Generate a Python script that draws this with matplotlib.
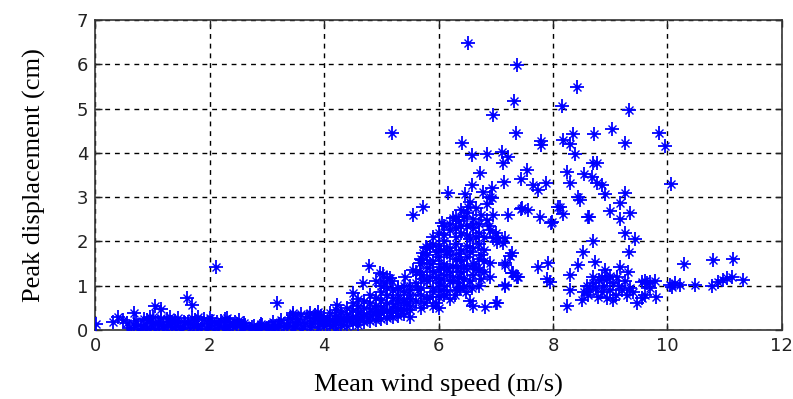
import matplotlib
matplotlib.use("Agg")
import matplotlib.pyplot as plt
import numpy as np

# ---- data: low-speed band (0-4 m/s) ----
wind_low = [0.6,0.75,0.9,1.05,1.2,1.35,1.5,1.65,1.8,1.95,2.1,2.25,2.4,2.55,2.7,2.85,3.0,3.15,3.3,3.45,3.6,3.75,3.9,
            0.68,0.83,0.97,1.12,1.27,1.42,1.57,1.72,1.87,2.02,2.17,2.32,2.47,2.62,2.77,2.92,3.07,3.22,3.37,3.52,3.67,3.82,3.97,
            0.72,0.9,1.1,1.25,1.4,1.55,1.75,1.9,2.05,2.2,2.35,2.6,2.9,3.1,3.25,3.4,3.55,3.7,3.85,3.95,
            0.8,1.0,1.18,1.33,1.48,1.63,1.78,1.98,2.13,2.28,2.44,2.58,2.74,2.88,3.03,3.2,3.35,3.5,3.64,3.78,3.92,
            0.95,1.15,1.45,1.7,2.0,2.27,2.52,3.45,3.6,3.75,3.9,
            0.02,0.32,0.4,0.49,0.68,1.05,1.15,1.01,1.61,1.69,2.11,3.18,3.46,3.84,4.23,1.3,1.8,2.3,0.55,0.85]
disp_low = [0.04,0.03,0.05,0.02,0.04,0.06,0.03,0.05,0.04,0.02,0.05,0.03,0.06,0.04,0.02,0.05,0.03,0.04,0.06,0.05,0.03,0.07,0.05,
            0.12,0.10,0.14,0.11,0.13,0.10,0.15,0.12,0.14,0.16,0.12,0.10,0.13,0.11,0.09,0.12,0.10,0.14,0.16,0.18,0.15,0.20,0.22,
            0.20,0.22,0.18,0.24,0.20,0.19,0.22,0.25,0.21,0.20,0.18,0.15,0.14,0.17,0.22,0.26,0.25,0.30,0.28,0.32,
            0.08,0.16,0.09,0.17,0.07,0.18,0.09,0.10,0.18,0.07,0.17,0.08,0.06,0.08,0.07,0.09,0.10,0.12,0.10,0.13,0.15,
            0.30,0.28,0.27,0.26,0.27,0.25,0.22,0.34,0.36,0.38,0.40,
            0.13,0.18,0.29,0.23,0.38,0.54,0.47,0.29,0.72,0.56,1.42,0.61,0.38,0.34,0.56,0.30,0.30,0.28,0.15,0.25]

# ---- rising band (4-5.9 m/s) ----
wind_rise = [4.0,4.0,4.0, 4.1,4.1,4.1, 4.2,4.2,4.2,4.2, 4.3,4.3,4.3, 4.4,4.4,4.4,4.4, 4.5,4.5,4.5,4.5,
             4.6,4.6,4.6,4.6,4.6, 4.7,4.7,4.7,4.7, 4.8,4.8,4.8,4.8,4.8, 4.9,4.9,4.9,4.9,
             5.0,5.0,5.0,5.0,5.0,5.0, 5.1,5.1,5.1,5.1,5.1, 5.2,5.2,5.2,5.2,5.2, 5.3,5.3,5.3,5.3,5.3,
             5.4,5.4,5.4,5.4,5.4, 5.5,5.5,5.5,5.5,
             4.05,4.15,4.25,4.35,4.45,4.55,4.65,4.75,4.85,4.95,5.05,5.15,5.25,5.35,5.45,
             4.51,4.68,4.79,4.98,5.03,5.1,5.15,5.19,5.29,5.41,5.56,5.68,5.68,5.71,5.73,5.78,5.85,4.9,5.05,5.19]
disp_rise = [0.08,0.20,0.30, 0.10,0.25,0.38, 0.05,0.18,0.32,0.45, 0.12,0.28,0.40, 0.10,0.22,0.35,0.50, 0.15,0.30,0.45,0.60,
             0.12,0.25,0.40,0.55,0.70, 0.18,0.35,0.50,0.65, 0.20,0.32,0.48,0.62,0.80, 0.22,0.40,0.55,0.72,
             0.25,0.38,0.52,0.68,0.85,1.00, 0.28,0.45,0.60,0.78,0.95, 0.30,0.42,0.58,0.72,0.90, 0.32,0.50,0.65,0.80,0.95,
             0.35,0.48,0.62,0.85,1.00, 0.30,0.55,0.70,0.90,
             0.14,0.17,0.24,0.20,0.28,0.22,0.32,0.28,0.38,0.33,0.45,0.38,0.50,0.42,0.62,
             0.84,1.06,1.44,1.29,1.26,1.17,1.17,1.10,0.95,1.20,1.35,1.31,1.51,1.58,1.74,1.87,1.87,1.10,1.05,4.45]

# ---- dense cloud (5.4-7.4 m/s) ----
wind_cloud = [6.17,6.46,6.78,6.9,6.59,6.93,
              5.73,6.52,6.55,6.4,6.65,6.85,
              5.56,6.06,6.25,6.35,6.45,6.6,6.7,6.85,6.95,6.5,6.3,
              6.0,6.1,6.2,6.3,6.4,6.5,6.6,6.7,6.8,6.9,7.0,5.9,6.55,6.65,
              5.8,5.9,6.0,6.1,6.2,6.3,6.4,6.5,6.6,6.7,6.8,6.95,7.04,7.16,6.15,
              5.7,5.8,5.9,6.0,6.1,6.2,6.3,6.4,6.5,6.6,6.7,6.8,6.9,7.16,7.25,6.05,
              5.6,5.7,5.8,5.9,6.0,6.1,6.2,6.25,6.32,6.4,6.5,6.6,6.7,6.8,6.9,7.28,7.37,
              5.5,5.6,5.7,5.8,5.9,6.0,6.1,6.2,6.34,6.45,6.55,6.7,6.32,7.16,
              5.4,5.5,5.6,5.7,5.8,5.9,6.0,6.1,6.2,6.55,6.6,6.81,7.0,7.02,
              5.5,5.7,5.9,6.0,
              5.85,5.95,6.05,6.15,6.25,6.35,6.45,6.55,6.65,6.75,
              5.75,5.85,5.95,6.05,6.15,6.25,6.35,6.45,6.62,6.75,
              5.65,5.75,5.85,5.95,6.05,6.15,6.28,6.38,6.48,6.58,
              6.1,6.2,6.3,6.4,6.5,6.6,6.75,6.88]
disp_cloud = [3.09,3.07,3.11,3.00,3.27,3.20,
              2.78,2.78,2.89,2.70,2.75,2.85,
              2.60,2.42,2.53,2.45,2.55,2.50,2.40,2.48,2.60,2.35,2.30,
              2.20,2.15,2.25,2.10,2.20,2.15,2.30,2.20,2.10,2.25,2.20,2.10,2.05,2.10,
              1.85,1.95,1.90,2.00,1.85,1.95,1.80,1.90,1.85,1.95,1.80,2.08,2.08,2.08,1.75,
              1.60,1.70,1.55,1.65,1.50,1.70,1.60,1.55,1.65,1.50,1.60,1.55,1.51,1.47,1.67,1.80,
              1.30,1.25,1.40,1.30,1.35,1.25,1.31,1.20,1.40,1.30,1.38,1.25,1.35,1.30,1.20,1.29,1.20,
              1.00,1.05,0.95,1.10,0.95,1.05,1.00,1.10,1.06,1.00,1.10,1.00,0.90,0.99,
              0.70,0.80,0.65,0.80,0.70,0.85,0.75,0.80,0.70,0.66,0.55,0.52,0.61,0.60,
              0.45,0.50,0.55,0.50,
              1.48,1.75,1.42,1.78,1.45,1.72,1.45,1.75,1.40,1.70,
              1.15,1.20,1.18,1.15,1.40,1.10,1.20,1.15,1.45,1.15,
              0.90,0.60,0.75,0.62,0.90,0.88,0.80,0.95,0.85,0.95,
              2.35,2.40,2.55,2.35,2.65,2.40,2.60,2.35]

# ---- scattered 6.4-8.1 m/s ----
wind_mid = [6.52,7.37,7.32,6.95,7.35,7.79,7.79,6.41,6.59,6.85,7.11,7.21,7.13,6.72,7.55,7.14,7.44,7.65,7.88,7.74,
            6.93,7.21,7.44,7.56,7.77,7.97,8.09,7.28,7.13,7.02,7.74,7.91,7.9,7.95,7.16,7.3,7.39,7.16,7.46,7.98]
disp_mid = [6.48,5.98,5.17,4.85,4.45,4.27,4.18,4.22,3.95,3.97,4.02,3.90,3.77,3.54,3.61,3.34,3.40,3.27,3.32,3.16,
            2.98,2.60,2.73,2.71,2.55,2.42,2.78,1.74,1.97,1.99,1.42,1.51,1.15,1.08,1.02,1.29,1.20,1.51,2.75,2.44]

# ---- scattered 8-10.1 m/s ----
wind_high = [8.42,8.16,9.33,8.18,8.35,8.3,8.38,8.72,9.03,9.26,9.85,9.96,8.7,8.77,8.24,8.3,8.54,8.68,8.77,8.86,
             8.91,9.26,10.06,8.44,8.47,8.61,8.63,9.0,9.17,9.35,9.17,8.12,8.18,9.26,9.43,8.7,8.52,9.33,8.73,8.44,
             8.3,9.17,9.31,8.91,
             8.3,8.24,8.5,9.05,9.47,9.8,8.55,8.6,8.65,8.7,8.75,8.8,8.85,8.9,8.95,9.0,9.05,9.1,9.15,9.2,
             9.25,9.3,9.35,9.4,9.55,9.6,9.65,9.7,9.78,8.62,8.78,8.95,9.12,8.85,9.0,8.7,9.7,9.6,9.55]
disp_high = [5.49,5.06,4.97,4.29,4.42,4.20,3.97,4.42,4.53,4.22,4.45,4.15,3.77,3.77,3.57,3.32,3.52,3.45,3.32,3.27,
             3.07,3.09,3.30,3.00,2.93,2.55,2.55,2.69,2.50,2.64,2.87,2.78,2.62,2.19,2.05,2.00,1.76,1.76,1.53,1.47,
             1.24,1.42,1.31,1.35,
             0.90,0.54,0.68,0.68,0.61,0.74,0.85,1.00,0.90,1.05,0.95,1.12,0.85,1.00,1.15,0.90,1.05,0.80,1.00,0.90,
             1.10,0.80,0.95,0.85,1.08,1.10,1.05,1.08,1.10,0.78,0.75,0.72,1.20,1.20,1.22,1.20,0.95,0.80,0.72]

# ---- tail above 10 m/s ----
wind_tail = [10.04,10.13,10.22,10.29,10.48,10.78,10.8,10.88,10.97,11.04,11.13,11.14,11.32,10.08]
disp_tail = [1.02,1.06,1.02,1.49,1.02,0.99,1.58,1.08,1.13,1.17,1.20,1.60,1.13,0.97]

x_ticks = [0, 2, 4, 6, 8, 10, 12]
y_ticks = [0, 1, 2, 3, 4, 5, 6, 7]
x_label = "Mean wind speed (m/s)"
y_label = "Peak displacement (cm)"

wind = np.concatenate([wind_low, wind_rise, wind_cloud, wind_mid, wind_high, wind_tail])
disp = np.concatenate([disp_low, disp_rise, disp_cloud, disp_mid, disp_high, disp_tail])

fig = plt.figure(figsize=(7.93, 3.99), dpi=100)
ax = fig.add_axes([0.120, 0.173, 0.866, 0.777])

blue = (0, 0, 1)
ax.plot(wind, disp, linestyle='none', marker='+', ms=10, mew=1.3, color=blue, zorder=3)
ax.plot(wind, disp, linestyle='none', marker='x', ms=5.5, mew=1.0, color=blue, zorder=3)
ax.plot(wind, disp, linestyle='none', marker='o', ms=3.2, mew=0, color=blue, zorder=3)

ax.set_xlim(0, 12)
ax.set_ylim(0, 7)
ax.set_xticks(x_ticks)
ax.set_yticks(y_ticks)
ax.grid(True, color='black', linestyle=(0, (3.5, 3.5)), linewidth=1.0)
ax.tick_params(direction='in', length=5, width=1, top=True, right=True,
               labelsize=13, colors='#222222', pad=5)
for lab in ax.get_xticklabels() + ax.get_yticklabels():
    lab.set_family('DejaVu Sans')
for sp in ax.spines.values():
    sp.set_color('#333333')
    sp.set_linewidth(1.2)

ax.set_xlabel(x_label, family='Liberation Serif', fontsize=19, labelpad=14)
ax.set_ylabel(y_label, family='Liberation Serif', fontsize=19, labelpad=22)

fig.savefig("out.png", dpi=100)
